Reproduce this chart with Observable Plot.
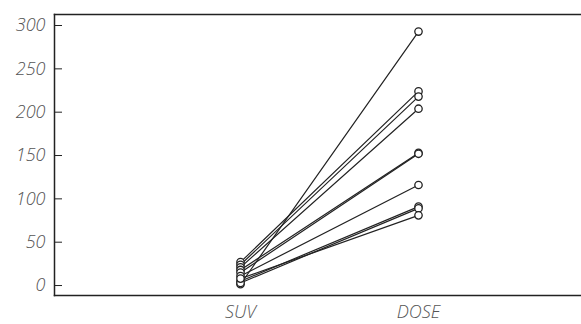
<!DOCTYPE html>
<html>
<head>
<meta charset="utf-8">
<script src="https://cdn.jsdelivr.net/npm/d3@7"></script>
<script src="https://cdn.jsdelivr.net/npm/@observablehq/plot@0.6"></script>
<style>
  html, body { margin: 0; padding: 0; background: #fff; }
  #chart svg { display: block; }
</style>
</head>
<body>
<div id="chart"></div>
<script>
const subjects = ["A","B","C","D","E","F","G","H","I","J"];
const suvValues  = [1.5, 27, 24, 21, 18, 15, 11, 5, 3, 8];
const doseValues = [293, 224, 218, 204, 153, 152, 116, 91, 89, 81];
const categories = ["SUV", "DOSE"];
const yTicks = [0, 50, 100, 150, 200, 250, 300];

const data = [];
subjects.forEach((s, i) => {
  data.push({subject: s, cat: "SUV", value: suvValues[i]});
  data.push({subject: s, cat: "DOSE", value: doseValues[i]});
});

const font = "'Open Sans', 'DejaVu Sans', sans-serif";

const chart = Plot.plot({
  width: 581,
  height: 324,
  marginLeft: 54,
  marginRight: 0,
  marginTop: 14,
  marginBottom: 29,
  style: {fontFamily: font, fontSize: "18px", fontStyle: "italic", fontWeight: 300, color: "#555", background: "#fff"},
  x: {type: "point", domain: categories, padding: 0, insetLeft: 186, insetRight: 163, label: null},
  y: {domain: [-11.5, 312.7], label: null},
  marks: [
    Plot.frame({anchor: "left", stroke: "#222", strokeWidth: 1.5}),
    Plot.frame({anchor: "top", stroke: "#222", strokeWidth: 1.5}),
    Plot.frame({anchor: "bottom", stroke: "#222", strokeWidth: 1.5}),
    Plot.axisY(yTicks, {tickSize: -8, tickPadding: 17, stroke: "#222", fill: "#555", fontStyle: "italic", fontWeight: 300, label: null}),
    Plot.axisX(categories, {tickSize: 0, tickPadding: 10, fill: "#555", fontStyle: "italic", fontWeight: 300, label: null}),
    Plot.line(data, {x: "cat", y: "value", z: "subject", stroke: "#222", strokeWidth: 1.2}),
    Plot.dot(data, {x: "cat", y: "value", r: 3.7, stroke: "#222", fill: "white", strokeWidth: 1.3})
  ]
});
document.getElementById("chart").appendChild(chart);
</script>
</body>
</html>
